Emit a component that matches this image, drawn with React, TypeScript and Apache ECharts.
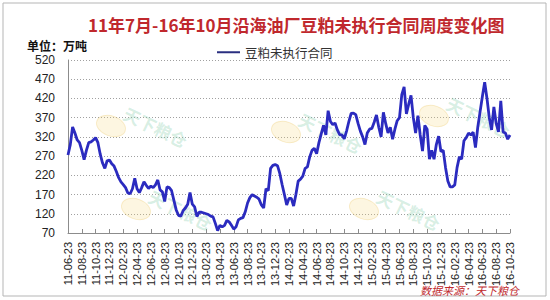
import React, { useEffect, useRef } from "react";
import * as echarts from "echarts";

const titleText = "11年7月-16年10月沿海油厂豆粕未执行合同周度变化图";
const unitText = "单位：万吨";
const seriesName = "豆粕未执行合同";
const sourceText = "数据来源：天下粮仓";

const tickLabels = [
  "11-06-23", "11-08-23", "11-10-23", "11-12-23",
  "12-02-23", "12-04-23", "12-06-23", "12-08-23", "12-10-23", "12-12-23",
  "13-02-23", "13-04-23", "13-06-23", "13-08-23", "13-10-23", "13-12-23",
  "14-02-23", "14-04-23", "14-06-23", "14-08-23", "14-10-23", "14-12-23",
  "15-02-23", "15-04-23", "15-06-23", "15-08-23", "15-10-23", "15-12-23",
  "16-02-23", "16-04-23", "16-06-23", "16-08-23", "16-10-23",
];

// values sampled 6 per 2-month tick interval
const contractValues = [
  273, 300, 346, 330, 312, 305, 285, 261, 285, 305,
  307, 312, 318, 305, 275, 252, 238, 258, 260, 250,
  244, 230, 214, 203, 196, 188, 174, 172, 185, 212,
  185, 175, 188, 203, 194, 186, 192, 188, 195, 208,
  182, 177, 152, 190, 188, 180, 155, 130, 116, 114,
  128, 135, 145, 175, 145, 138, 113, 124, 124, 122,
  120, 118, 114, 112, 95, 76, 90, 86, 90, 103,
  99, 90, 80, 86, 104, 108, 110, 125, 148, 162,
  170, 166, 163, 158, 143, 135, 185, 180, 238, 246,
  248, 245, 225, 196, 170, 143, 160, 160, 140, 170,
  205, 210, 218, 238, 242, 268, 285, 290, 276, 305,
  328, 350, 325, 388, 360, 352, 356, 338, 326, 325,
  315, 335, 360, 381, 382, 378, 355, 335, 320, 300,
  330, 340, 342, 358, 377, 345, 320, 384, 355, 330,
  345, 314, 340, 362, 370, 430, 450, 380, 405, 428,
  370, 330, 375, 325, 283, 350, 340, 262, 285, 262,
  300, 322, 282, 285, 240, 205, 190, 190, 195, 240,
  268, 262, 310, 318, 330, 325, 332, 292, 345, 385,
  425, 462, 420, 370, 338, 398, 355, 333, 414, 333,
  330, 314, 325,
];

const STEPS = 6;
const categories: string[] = [];
tickLabels.forEach((lab, k) => {
  categories.push(lab);
  if (k < tickLabels.length - 1) {
    for (let j = 1; j < STEPS; j++) categories.push(lab + "#" + j);
  }
});

const watermarks = [
  { x: 125, y: 112 },
  { x: 150, y: 195 },
  { x: 300, y: 118 },
  { x: 378, y: 195 },
  { x: 448, y: 102 },
];

export default function App() {
  const ref = useRef<HTMLDivElement>(null);
  useEffect(() => {
    if (!ref.current) return;
    const chart = echarts.init(ref.current, undefined, { renderer: "svg" });
    const graphics: any[] = [
      {
        type: "rect",
        shape: { x: 3, y: 3, width: 543, height: 293 },
        style: { fill: "none", stroke: "#b5b5b5", lineWidth: 1 },
        z: 0,
      },
      {
        type: "text",
        x: 27,
        y: 45.5,
        style: {
          text: unitText,
          font: 'bold 12px "Noto Sans CJK SC"',
          fill: "#111",
          textVerticalAlign: "middle",
        },
      },
      {
        type: "text",
        x: 519,
        y: 290,
        style: {
          text: sourceText,
          font: 'italic 11px "Noto Sans CJK SC"',
          fill: "#c0282d",
          textAlign: "right",
          textVerticalAlign: "middle",
        },
      },
    ];
    watermarks.forEach((w) => {
      graphics.push({
        type: "ellipse",
        x: w.x - 14,
        y: w.y + 14,
        rotation: -Math.PI / 9,
        shape: { cx: 0, cy: 0, rx: 15, ry: 10 },
        style: { fill: "rgba(245,215,120,0.22)", stroke: "rgba(235,200,100,0.3)" },
        z: 1,
      });
      graphics.push({
        type: "text",
        x: w.x,
        y: w.y,
        rotation: -Math.PI / 7,
        style: {
          text: "天下粮仓",
          font: 'bold 17px "Noto Sans CJK SC"',
          fill: "rgba(120,200,160,0.3)",
          textVerticalAlign: "middle",
        },
        z: 1,
      });
    });

    chart.setOption({
      animation: false,
      backgroundColor: "#ffffff",
      title: {
        text: titleText,
        left: 83,
        top: 11,
        textStyle: {
          fontSize: 17,
          fontWeight: "bold",
          color: "#c0282d",
          fontFamily: '"Noto Sans CJK SC"',
        },
      },
      legend: {
        data: [seriesName],
        left: 212,
        top: 41,
        icon: "rect",
        itemWidth: 23,
        itemHeight: 2,
        itemGap: 4,
        itemStyle: { color: "#2a2f80" },
        textStyle: { fontSize: 12.5, color: "#333", fontFamily: '"Noto Sans CJK SC"' },
      },
      grid: { left: 68, right: 40, top: 60, bottom: 67 },
      xAxis: {
        type: "category",
        data: categories,
        boundaryGap: false,
        axisLine: { lineStyle: { color: "#8c8c8c", width: 1 } },
        axisTick: { interval: STEPS - 1, inside: true, length: 4, lineStyle: { color: "#8c8c8c" } },
        axisLabel: {
          interval: STEPS - 1,
          rotate: 90,
          margin: 9,
          fontSize: 11,
          color: "#222",
          fontFamily: "Arial, 'Liberation Sans'",
          formatter: (v: string) => v.split("#")[0],
        },
        splitLine: { show: false },
      },
      yAxis: {
        type: "value",
        min: 70,
        max: 520,
        interval: 50,
        axisLine: { show: true, lineStyle: { color: "#8c8c8c", width: 1 } },
        axisTick: { show: false },
        axisLabel: {
          fontSize: 12,
          margin: 13,
          color: "#222",
          fontFamily: "Arial, 'Liberation Sans'",
        },
        splitLine: { lineStyle: { color: "#a0a0a0", type: [1, 2], width: 1 } },
      },
      series: [
        {
          name: seriesName,
          type: "line",
          data: contractValues,
          showSymbol: false,
          symbol: "none",
          lineStyle: { color: "#2b2bbf", width: 2.8 },
          itemStyle: { color: "#2b2bbf" },
          z: 3,
        },
      ],
      graphic: graphics,
    });
    return () => chart.dispose();
  }, []);
  return (
    <div
      ref={ref}
      style={{ position: "fixed", left: 0, top: 0, width: 550, height: 300, background: "#fff" }}
    />
  );
}
